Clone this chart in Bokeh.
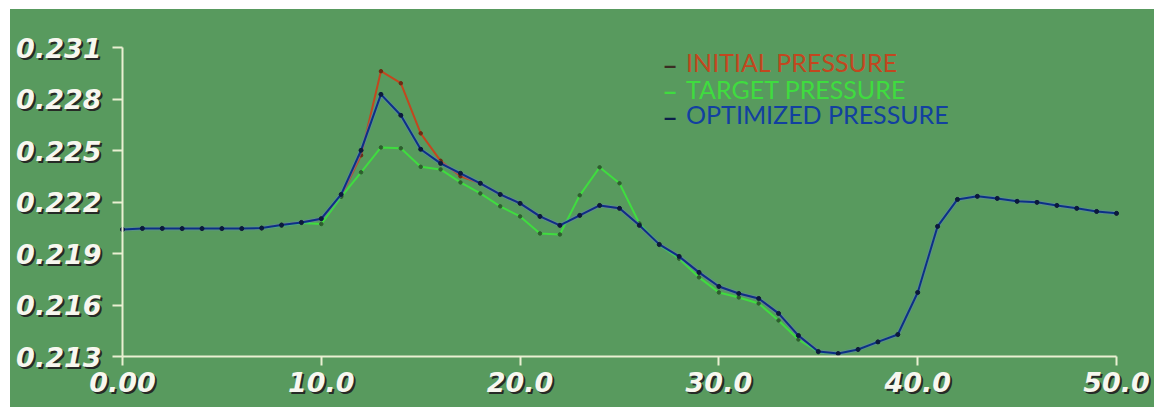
from bokeh.plotting import figure
from bokeh.models import Range1d, FixedTicker, Label, LinearAxis
from bokeh.embed import file_html
from bokeh.resources import INLINE

# Pressure samples along the profile (51 stations, 0..50)
positions = list(range(51))

initial_pressure = [
    0.22040, 0.22046, 0.22046, 0.22045, 0.22045, 0.22045, 0.22045, 0.22048, 0.22066, 0.22081,
    0.22103, 0.22235, 0.22472, 0.22962, 0.22892, 0.22600, 0.22440, 0.22350, 0.22309, 0.22244,
    0.22192, 0.22116, 0.22064, 0.22122, 0.22180, 0.22163, 0.22064, 0.21953, 0.21883, 0.21790,
    0.21708, 0.21667, 0.21638, 0.21551, 0.21422, 0.21329, 0.21317, 0.21341, 0.21385, 0.21428,
    0.21673, 0.22058, 0.22215, 0.22233, 0.22221, 0.22204, 0.22198, 0.22180, 0.22163, 0.22145,
    0.22134,
]

target_pressure = [
    0.22040, 0.22046, 0.22046, 0.22045, 0.22045, 0.22045, 0.22045, 0.22048, 0.22062, 0.22078,
    0.22072, 0.22230, 0.22373, 0.22518, 0.22513, 0.22405, 0.22390, 0.22314, 0.22250, 0.22175,
    0.22116, 0.22017, 0.22011, 0.22239, 0.22402, 0.22309, 0.22075, 0.21950, 0.21870, 0.21761,
    0.21673, 0.21644, 0.21609, 0.21510, 0.21399, 0.21325, 0.21317, 0.21341, 0.21385, 0.21428,
    0.21673, 0.22058, 0.22215, 0.22233, 0.22221, 0.22204, 0.22198, 0.22180, 0.22163, 0.22145,
    0.22134,
]

optimized_pressure = [
    0.22040, 0.22046, 0.22046, 0.22045, 0.22045, 0.22045, 0.22045, 0.22048, 0.22066, 0.22081,
    0.22103, 0.22244, 0.22501, 0.22827, 0.22705, 0.22507, 0.22425, 0.22367, 0.22309, 0.22244,
    0.22192, 0.22116, 0.22064, 0.22122, 0.22180, 0.22163, 0.22064, 0.21953, 0.21883, 0.21790,
    0.21708, 0.21667, 0.21638, 0.21551, 0.21422, 0.21329, 0.21317, 0.21341, 0.21385, 0.21428,
    0.21673, 0.22058, 0.22215, 0.22233, 0.22221, 0.22204, 0.22198, 0.22180, 0.22163, 0.22145,
    0.22134,
]

x_tick_values = [0, 10, 20, 30, 40, 50]
x_tick_labels = ["0.00", "10.0", "20.0", "30.0", "40.0", "50.0"]
y_tick_values = [0.213, 0.216, 0.219, 0.222, 0.225, 0.228, 0.231]
y_tick_labels = ["0.213", "0.216", "0.219", "0.222", "0.225", "0.228", "0.231"]

series_names = ["INITIAL PRESSURE", "TARGET PRESSURE", "OPTIMIZED PRESSURE"]

BG = "#589a5e"
AXIS = "#e9f0d2"
RED = "#c2471f"
GREEN = "#3fdc3f"
BLUE = "#0c2f88"
SHADOW = "#262a26"
LABEL_WHITE = "#f7f7ef"
TICK_FONT = "DejaVu Sans"
TICK_SIZE = "27px"
Y_TICK_OUT, Y_STANDOFF = 10, 11
X_TICK_OUT, X_STANDOFF = 9, 6
SHIFT = 2  # drop-shadow offset in pixels

# canvas size and the room kept around the axes box
W, H = 1144, 398
PAD_L, PAD_R, PAD_T, PAD_B = 112, 38, 38, 51
X0, X1 = x_tick_values[0], x_tick_values[-1]
Y0, Y1 = y_tick_values[0], y_tick_values[-1]
sx = (X1 - X0) / (W - PAD_L - PAD_R)
sy = (Y1 - Y0) / (H - PAD_T - PAD_B)

# the frame spans the whole canvas so the tick labels and their shadows are not clipped
p = figure(
    width=W, height=H,
    x_range=Range1d(X0 - PAD_L * sx, X1 + PAD_R * sx),
    y_range=Range1d(Y0 - PAD_B * sy, Y1 + PAD_T * sy),
    x_axis_type=None, y_axis_type=None,
    output_backend="svg", toolbar_location=None,
    min_border=0, min_border_left=0, min_border_right=0, min_border_top=0, min_border_bottom=0,
    background_fill_color=None, border_fill_color=None,
)
p.styles = {"background-color": BG}
p.margin = (9, 0, 0, 10)
p.outline_line_color = None
p.grid.visible = False

xaxis = LinearAxis(fixed_location=Y0, bounds=(X0, X1))
yaxis = LinearAxis(fixed_location=X0, bounds=(Y0, Y1))
p.add_layout(xaxis, "below")
p.add_layout(yaxis, "left")

for axis, vals, labels, tick_out, standoff in (
    (xaxis, x_tick_values, x_tick_labels, X_TICK_OUT, X_STANDOFF),
    (yaxis, y_tick_values, y_tick_labels, Y_TICK_OUT, Y_STANDOFF),
):
    axis.ticker = FixedTicker(ticks=vals)
    axis.major_label_overrides = dict(zip(vals, labels))
    axis.axis_line_color = AXIS
    axis.axis_line_width = 2
    axis.major_tick_line_color = AXIS
    axis.major_tick_line_width = 2
    axis.major_tick_in = 0
    axis.major_tick_out = tick_out
    axis.minor_tick_line_color = None
    axis.major_label_standoff = standoff
    axis.major_label_text_font = TICK_FONT
    axis.major_label_text_font_style = "bold italic"
    axis.major_label_text_font_size = TICK_SIZE
    axis.major_label_text_color = LABEL_WHITE

# dark drop shadows beneath the tick labels
shadow_style = dict(text_font=TICK_FONT, text_font_style="bold italic",
                    text_font_size=TICK_SIZE, text_color=SHADOW, level="underlay")
for v, t in zip(y_tick_values, y_tick_labels):
    p.add_layout(Label(x=X0, y=v, text=t,
                       x_offset=-(Y_TICK_OUT + Y_STANDOFF) + SHIFT, y_offset=-SHIFT,
                       text_align="right", text_baseline="middle", **shadow_style))
for v, t in zip(x_tick_values, x_tick_labels):
    p.add_layout(Label(x=v, y=Y0, text=t,
                       x_offset=SHIFT, y_offset=-(X_TICK_OUT + X_STANDOFF) - SHIFT,
                       text_align="center", text_baseline="top", **shadow_style))

# curves: initial, target, then optimized on top
p.line(positions, initial_pressure, line_color=RED, line_width=2)
p.scatter(positions, initial_pressure, size=3.5, color="#6e2a12")
p.line(positions, target_pressure, line_color=GREEN, line_width=2)
p.scatter(positions, target_pressure, size=3.5, color="#2d5e2d")
p.line(positions, optimized_pressure, line_color="#5d86c2", line_width=4, line_alpha=0.45)
p.line(positions, optimized_pressure, line_color=BLUE, line_width=2)
p.scatter(positions, optimized_pressure, size=4, color="#0b1a3c")

# legend rows: dash + coloured name
text_colors = [RED, GREEN, "#1240a0"]
dash_colors = ["#3a2e22", GREEN, "#0c1f4a"]
row_y = [0.23013, 0.22861, 0.22710]
for name, tc, dc, yy in zip(series_names, text_colors, dash_colors, row_y):
    p.add_layout(Label(x=27.15, y=yy, y_offset=-2, text="\u2013", text_color=dc, text_font="Lato",
                       text_font_size="27px", text_font_style="bold", text_baseline="middle"))
    p.add_layout(Label(x=28.35, y=yy, text=name, text_color=tc, text_font="Lato",
                       text_font_size="25px", text_baseline="middle"))

open("out.html", "w").write(file_html(p, INLINE))
